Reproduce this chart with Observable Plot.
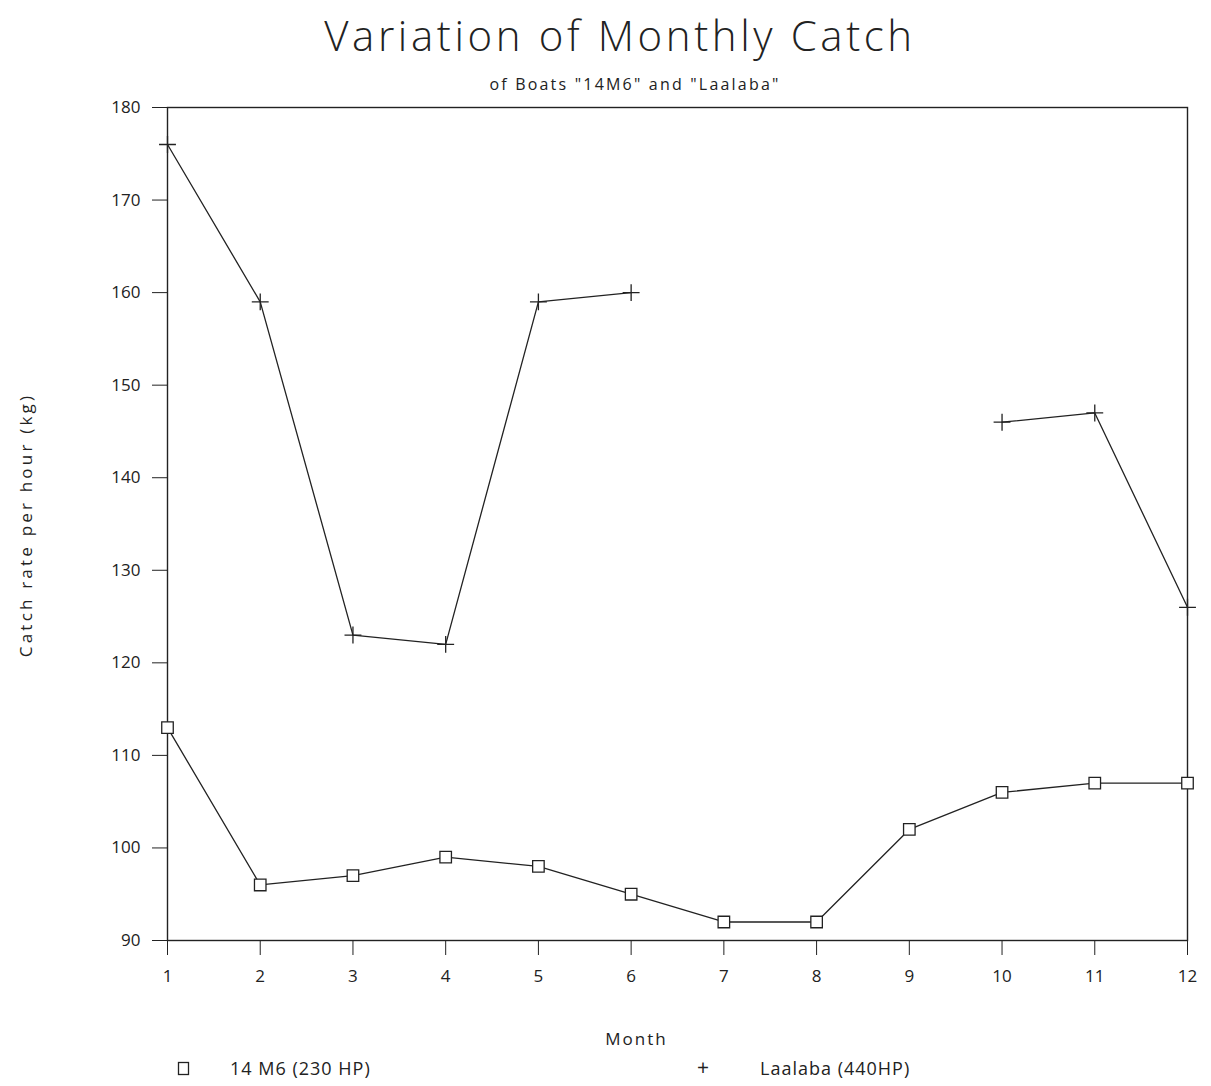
<!DOCTYPE html>
<html>
<head>
<meta charset="utf-8">
<script src="https://cdn.jsdelivr.net/npm/d3@7"></script>
<script src="https://cdn.jsdelivr.net/npm/@observablehq/plot@0.6"></script>
<style>
  html, body { margin: 0; padding: 0; background: #fff; }
  body { position: relative; width: 1211px; height: 1086px; overflow: hidden; font-family: "Open Sans", "Liberation Sans", sans-serif; color: #222; }
  .abs { position: absolute; white-space: nowrap; z-index: 2; }
  #title { left: 0; width: 1240px; top: 6px; text-align: center; font-size: 42px; font-weight: 300; letter-spacing: 3.6px; }
  #subtitle { left: 0; width: 1270px; top: 73px; text-align: center; font-size: 16px; letter-spacing: 2.2px; }
  #chart { position: absolute; left: 0; top: 87px; z-index: 1; }
  .leg { font-size: 18px; top: 1056px; letter-spacing: 1px; }
  #xlabel { left: 0; width: 1273px; top: 1027px; text-align: center; font-size: 17px; letter-spacing: 2px; }
  #ylabel { left: 25px; top: 525px; font-size: 17px; letter-spacing: 3.2px; transform: translate(-50%, -50%) rotate(-90deg); }
</style>
</head>
<body>
<div id="title" class="abs">Variation of Monthly Catch</div>
<div id="subtitle" class="abs">of Boats "14M6" and "Laalaba"</div>
<div id="chart"></div>
<div id="xlabel" class="abs">Month</div>
<div id="ylabel" class="abs">Catch rate per hour (kg)</div>
<div class="abs leg" style="left:177px;top:1058px;"><svg width="14" height="16"><rect x="1.5" y="1.5" width="10" height="12" fill="none" stroke="#222" stroke-width="1.3"/></svg></div>
<div class="abs leg" style="left:230px;">14 M6 (230 HP)</div>
<div class="abs leg" style="left:697px;font-size:21px;top:1053px;">+</div>
<div class="abs leg" style="left:760px;">Laalaba (440HP)</div>
<script>
const months = [1, 2, 3, 4, 5, 6, 7, 8, 9, 10, 11, 12];
const boat14M6 = [113, 96, 97, 99, 98, 95, 92, 92, 102, 106, 107, 107];
const laalaba = [176, 159, 123, 122, 159, 160, null, null, null, 146, 147, 126];
const yTicks = [90, 100, 110, 120, 130, 140, 150, 160, 170, 180];

const dataA = months.map((m, i) => ({month: m, value: boat14M6[i]}));
const dataB = months.map((m, i) => ({month: m, value: laalaba[i] == null ? NaN : laalaba[i]}));
const dataBDefined = dataB.filter(d => !isNaN(d.value));

const chart = Plot.plot({
  width: 1211,
  height: 940,
  marginTop: 20,
  marginLeft: 167,
  marginRight: 24,
  marginBottom: 87,
  style: {fontFamily: "'Open Sans', 'Liberation Sans', sans-serif", fontSize: "17px", color: "#222", background: "transparent"},
  x: {domain: [1, 12], ticks: months, tickSize: 15, tickPadding: 14, label: null, tickFormat: d => String(d)},
  y: {domain: [90, 180], ticks: yTicks, tickSize: 15, tickPadding: 12, label: null},
  marks: [
    Plot.frame({stroke: "#222", strokeWidth: 1.4}),
    Plot.line(dataA, {x: "month", y: "value", stroke: "#222", strokeWidth: 1.3}),
    Plot.dot(dataA, {x: "month", y: "value", symbol: "square", r: 6.5, stroke: "#222", fill: "white", strokeWidth: 1.3}),
    Plot.line(dataB, {x: "month", y: "value", stroke: "#222", strokeWidth: 1.3}),
    Plot.dot(dataBDefined, {x: "month", y: "value", symbol: "plus", r: 5.5, stroke: "#222", strokeWidth: 1.3})
  ]
});
document.getElementById("chart").appendChild(chart);
</script>
</body>
</html>
